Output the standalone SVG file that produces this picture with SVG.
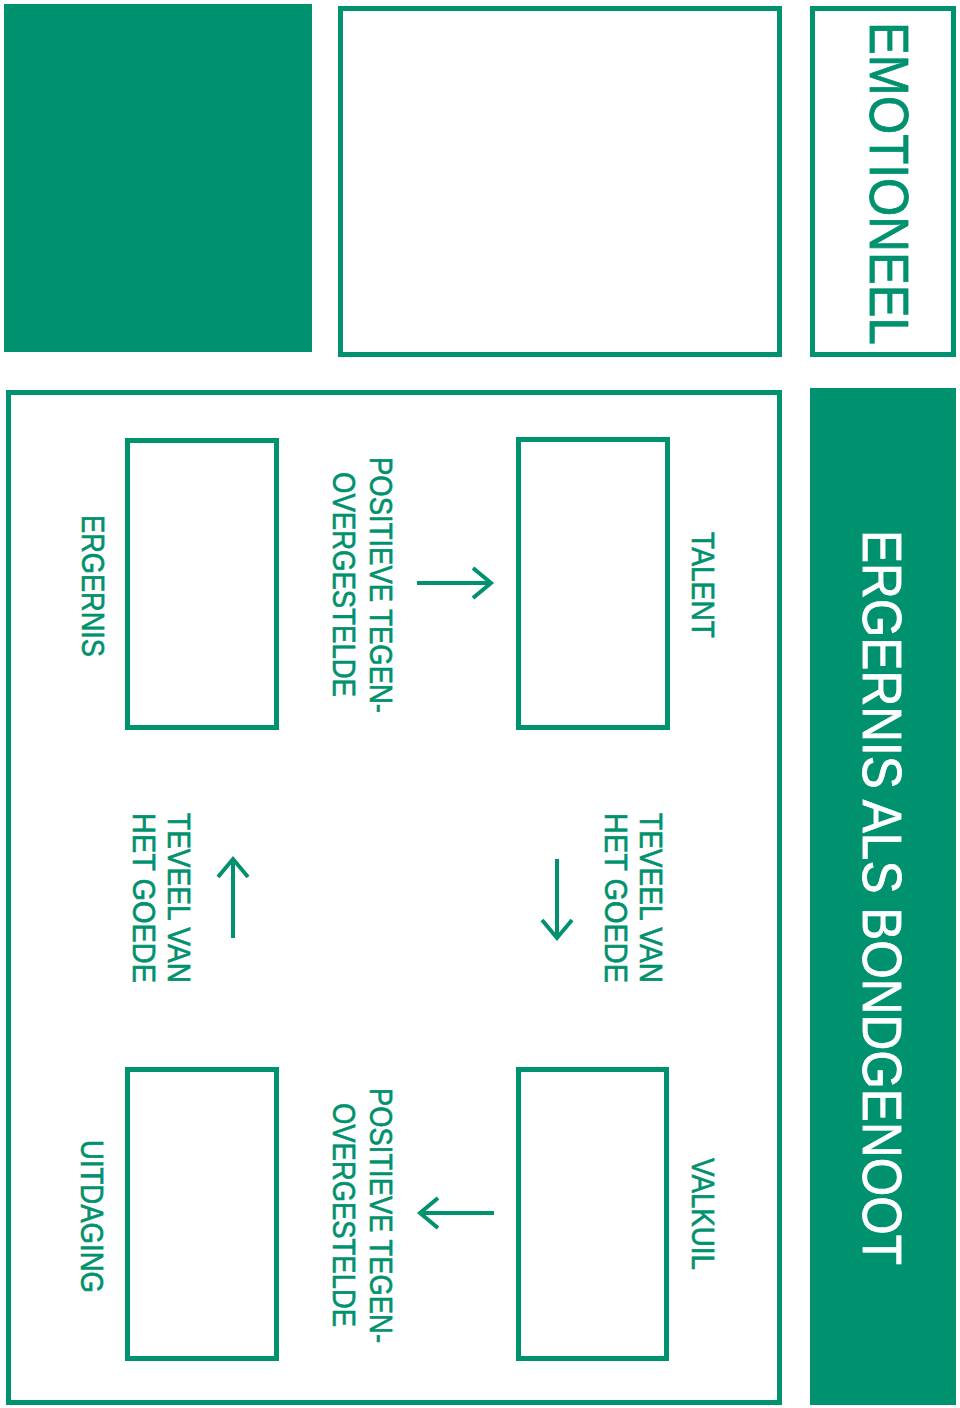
<svg xmlns="http://www.w3.org/2000/svg" width="960" height="1408" viewBox="0 0 960 1408">
<style>
.box{fill:#ffffff;stroke:#00916E;stroke-width:5}
.fill{fill:#00916E}
.t{font-family:"Liberation Sans",Arial,sans-serif;fill:#00916E;stroke:#00916E;stroke-width:0.6}
.big{font-size:56px;stroke-width:0.8}
.lbl{font-size:31px}
.w{fill:#ffffff;stroke:#ffffff}
.arr{fill:none;stroke:#00916E;stroke-width:4;stroke-linecap:butt;stroke-linejoin:miter}
</style>
<rect width="960" height="1408" fill="#ffffff"/>
<g id="green-square"><rect class="fill" x="4" y="4" width="308" height="348"/></g>
<g id="empty-box"><rect class="box" x="340.5" y="8.5" width="439" height="346"/></g>
<g id="emotioneel">
<rect class="box" x="812.5" y="8.5" width="141" height="346"/>
<text class="t big" transform="translate(870,22) rotate(90)" textLength="323" lengthAdjust="spacingAndGlyphs">EMOTIONEEL</text>
</g>
<g id="title">
<rect class="fill" x="810" y="388" width="146" height="1017"/>
<text class="t big w" transform="translate(863,530) rotate(90)" textLength="735" lengthAdjust="spacingAndGlyphs">ERGERNIS ALS BONDGENOOT</text>
</g>
<g id="frame"><rect class="box" x="8.5" y="392.5" width="771" height="1010"/></g>
<g id="talent">
<rect class="box" x="518.5" y="439.5" width="149" height="288"/>
<text class="t lbl" transform="translate(692,532) rotate(90)" textLength="106" lengthAdjust="spacingAndGlyphs">TALENT</text>
</g>
<g id="ergernis">
<rect class="box" x="127.5" y="440.5" width="149" height="287"/>
<text class="t lbl" transform="translate(82,515) rotate(90)" textLength="142" lengthAdjust="spacingAndGlyphs">ERGERNIS</text>
</g>
<g id="valkuil">
<rect class="box" x="518.5" y="1069.5" width="148" height="289"/>
<text class="t lbl" transform="translate(692,1158) rotate(90)" textLength="112" lengthAdjust="spacingAndGlyphs">VALKUIL</text>
</g>
<g id="uitdaging">
<rect class="box" x="127.5" y="1069.5" width="149" height="289"/>
<text class="t lbl" transform="translate(81,1140) rotate(90)" textLength="153" lengthAdjust="spacingAndGlyphs">UITDAGING</text>
</g>
<g id="connectors">
<line class="arr" x1="417" y1="583" x2="490" y2="583"/>
<polyline class="arr" points="473,568 491,583 473,598"/>
<line class="arr" x1="557" y1="859" x2="557" y2="936"/>
<polyline class="arr" points="542,920 557,938 572,920"/>
<line class="arr" x1="233" y1="938" x2="233" y2="861"/>
<polyline class="arr" points="218,877 233,859 248,877"/>
<line class="arr" x1="494" y1="1213" x2="421" y2="1213"/>
<polyline class="arr" points="438,1198 420,1213 438,1228"/>
</g>
<g id="labels">
<text class="t lbl" transform="translate(370,457) rotate(90)" textLength="256" lengthAdjust="spacingAndGlyphs">POSITIEVE TEGEN-</text>
<text class="t lbl" transform="translate(333,472) rotate(90)" textLength="225" lengthAdjust="spacingAndGlyphs">OVERGESTELDE</text>
<text class="t lbl" transform="translate(640,813) rotate(90)" textLength="170" lengthAdjust="spacingAndGlyphs">TEVEEL VAN</text>
<text class="t lbl" transform="translate(605,813) rotate(90)" textLength="170" lengthAdjust="spacingAndGlyphs">HET GOEDE</text>
<text class="t lbl" transform="translate(168,813) rotate(90)" textLength="170" lengthAdjust="spacingAndGlyphs">TEVEEL VAN</text>
<text class="t lbl" transform="translate(133,813) rotate(90)" textLength="170" lengthAdjust="spacingAndGlyphs">HET GOEDE</text>
<text class="t lbl" transform="translate(370,1088) rotate(90)" textLength="255" lengthAdjust="spacingAndGlyphs">POSITIEVE TEGEN-</text>
<text class="t lbl" transform="translate(333,1103) rotate(90)" textLength="224" lengthAdjust="spacingAndGlyphs">OVERGESTELDE</text>
</g>
</svg>
